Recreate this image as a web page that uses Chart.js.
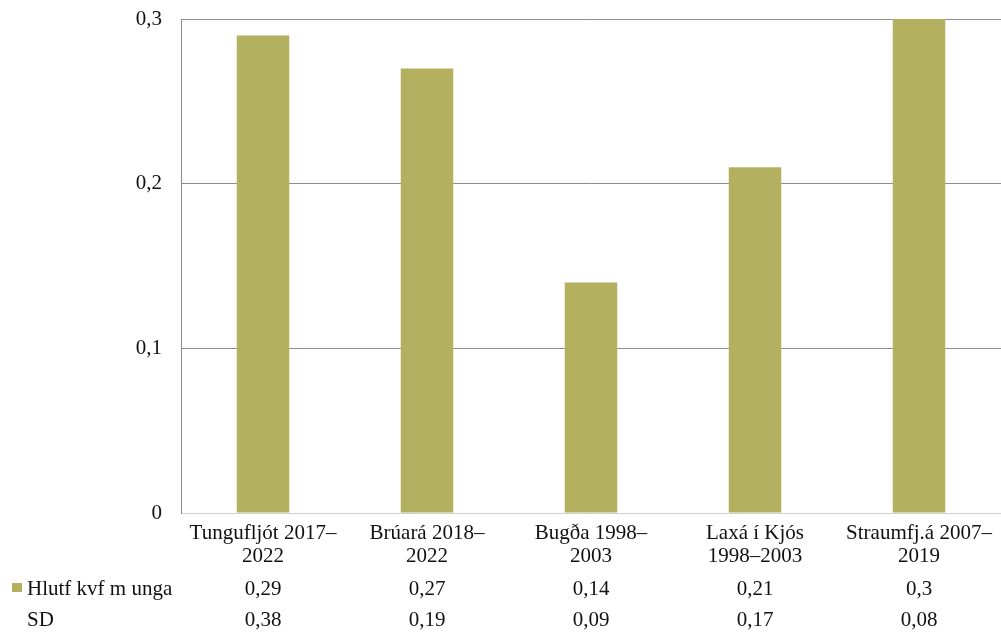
<!DOCTYPE html>
<html>
<head>
<meta charset="utf-8">
<script src="https://cdn.jsdelivr.net/npm/chart.js@4"></script>
<style>
  html, body { margin: 0; padding: 0; background: #fff; }
  #wrap { width: 1001px; height: 632px; position: relative; }
</style>
</head>
<body>
<div id="wrap"><canvas id="c" width="1001" height="632"></canvas></div>
<script>
// Rivers and survey periods
const categories = [
  ['Tungufljót 2017–', '2022'],
  ['Brúará 2018–', '2022'],
  ['Bugða 1998–', '2003'],
  ['Laxá í Kjós', '1998–2003'],
  ['Straumfj.á 2007–', '2019']
];
// Proportion of females with young, and its standard deviation
const seriesName = 'Hlutf kvf m unga';
const shareValues = [0.29, 0.27, 0.14, 0.21, 0.3];
const sdName = 'SD';
const sdValues = [0.38, 0.19, 0.09, 0.17, 0.08];
const yTicks = [0, 0.1, 0.2, 0.3];

const barColor = '#b3b05f';
const serif = '"Liberation Serif", "Times New Roman", serif';
const fmt = v => String(v).replace('.', ',');

// Data table under the x axis: legend key + one value per category
const dataTable = {
  id: 'dataTable',
  afterDraw(chart) {
    const ctx = chart.ctx;
    const x = chart.scales.x;
    ctx.save();
    ctx.font = '21px ' + serif;
    ctx.fillStyle = '#111';
    ctx.textBaseline = 'middle';
    const rows = [
      { name: seriesName, vals: shareValues, y: 589, key: true },
      { name: sdName, vals: sdValues, y: 620, key: false }
    ];
    rows.forEach(r => {
      if (r.key) {
        ctx.fillStyle = barColor;
        ctx.fillRect(12, r.y - 6, 10, 9);
        ctx.fillStyle = '#111';
      }
      ctx.textAlign = 'left';
      ctx.fillText(r.name, 27, r.y);
      ctx.textAlign = 'center';
      r.vals.forEach((v, i) => ctx.fillText(fmt(v), x.getPixelForValue(i), r.y));
    });
    ctx.restore();
  }
};

new Chart(document.getElementById('c'), {
  type: 'bar',
  data: {
    labels: categories,
    datasets: [{
      label: seriesName,
      data: shareValues,
      backgroundColor: barColor,
      borderWidth: 0,
      categoryPercentage: 1,
      barPercentage: 0.32
    }]
  },
  options: {
    responsive: false,
    animation: false,
    layout: { padding: { top: 19, right: 0, left: 0, bottom: 0 } },
    plugins: { legend: { display: false }, tooltip: { enabled: false } },
    scales: {
      x: {
        grid: { display: false, drawTicks: false },
        border: { color: '#cfcfcf', width: 1 },
        ticks: {
          color: '#111',
          font: { family: serif, size: 21, lineHeight: 1.1 },
          padding: 9,
          maxRotation: 0,
          autoSkip: false
        },
        afterFit(s) { s.height = 119; s.paddingLeft = 0; s.paddingRight = 0; }
      },
      y: {
        min: 0, max: 0.3,
        afterBuildTicks(s) { s.ticks = yTicks.map(v => ({ value: v })); },
        grid: { color: '#8c8c8c', lineWidth: 1, drawTicks: false },
        border: { color: '#8c8c8c', width: 1 },
        ticks: {
          color: '#111',
          font: { family: serif, size: 21 },
          padding: 19,
          callback: v => fmt(v)
        },
        afterFit(s) { s.width = 181; s.paddingTop = 0; s.paddingBottom = 0; }
      }
    }
  },
  plugins: [dataTable]
});
</script>
</body>
</html>
